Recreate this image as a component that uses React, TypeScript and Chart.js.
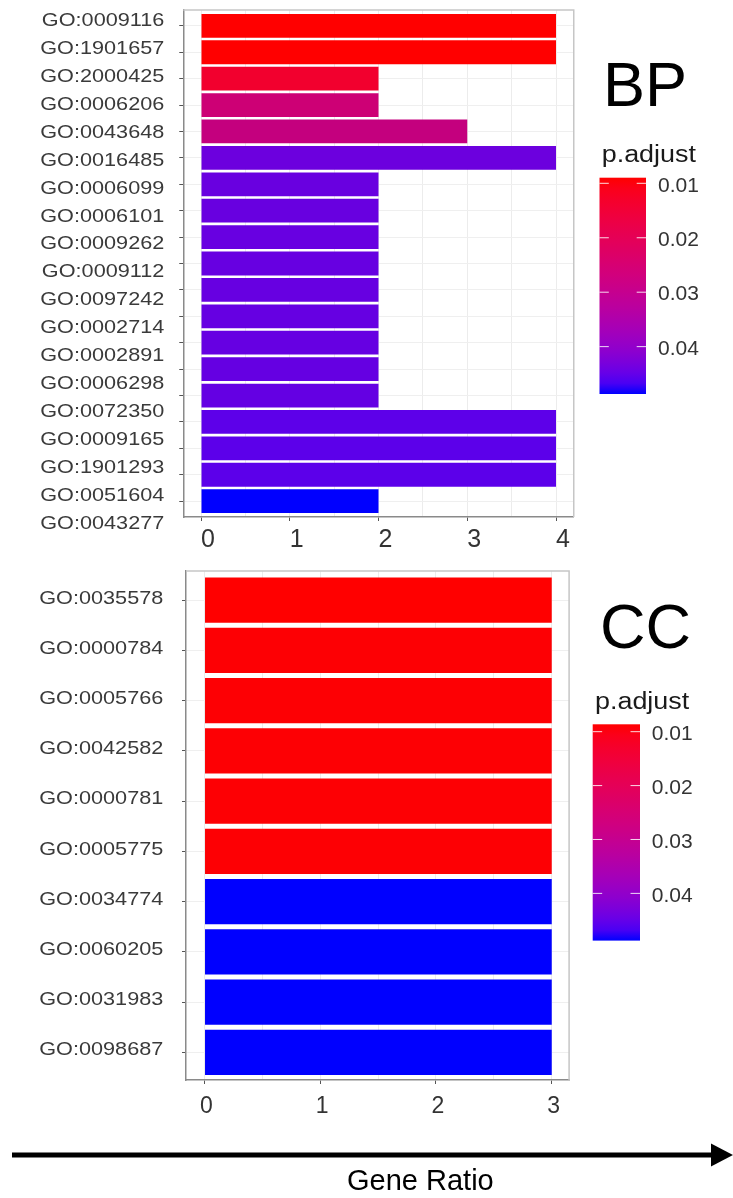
import React, { useEffect, useRef } from 'react';
import { Chart, registerables } from 'chart.js';

Chart.register(...registerables);

// ---------- data ----------
const bpTerms = [
  'GO:0009116', 'GO:1901657', 'GO:2000425', 'GO:0006206', 'GO:0043648',
  'GO:0016485', 'GO:0006099', 'GO:0006101', 'GO:0009262', 'GO:0009112',
  'GO:0097242', 'GO:0002714', 'GO:0002891', 'GO:0006298', 'GO:0072350',
  'GO:0009165', 'GO:1901293', 'GO:0051604', 'GO:0043277',
];
const bpCounts = [4, 4, 2, 2, 3, 4, 2, 2, 2, 2, 2, 2, 2, 2, 2, 4, 4, 4, 2];
const bpColors = [
  '#ff0000', '#ff0000', '#f2002e', '#cd0075', '#c4007e',
  '#6c00de', '#6900e0', '#6800e0', '#6800e1', '#6700e1',
  '#6700e1', '#6600e2', '#6600e2', '#6500e2', '#6400e3',
  '#5d00e9', '#5c00ea', '#5c00ea', '#0000ff',
];

const ccTerms = [
  'GO:0035578', 'GO:0000784', 'GO:0005766', 'GO:0042582', 'GO:0000781',
  'GO:0005775', 'GO:0034774', 'GO:0060205', 'GO:0031983', 'GO:0098687',
];
const ccCounts = [3, 3, 3, 3, 3, 3, 3, 3, 3, 3];
const ccColors = [
  '#ff0000', '#fd0004', '#fd0004', '#fd0004', '#fd0004',
  '#fd0004', '#0000ff', '#0000ff', '#0000ff', '#0000ff',
];

const bpXTicks = [0, 1, 2, 3, 4];
const ccXTicks = [0, 1, 2, 3];
const legendTicks = [0.01, 0.02, 0.03, 0.04];
const legendTickLabels = ['0.01', '0.02', '0.03', '0.04'];

// ---------- colour helpers (ggplot-like Lab gradient red -> blue) ----------
function toLin(c: number) {
  c /= 255;
  return c <= 0.04045 ? c / 12.92 : Math.pow((c + 0.055) / 1.055, 2.4);
}
function fromLin(c: number) {
  c = Math.max(0, Math.min(1, c));
  const v = c <= 0.0031308 ? 12.92 * c : 1.055 * Math.pow(c, 1 / 2.4) - 0.055;
  return Math.round(v * 255);
}
function rgbToLab(r: number, g: number, b: number) {
  const R = toLin(r), G = toLin(g), B = toLin(b);
  const X = (0.4124 * R + 0.3576 * G + 0.1805 * B) / 0.95047;
  const Y = 0.2126 * R + 0.7152 * G + 0.0722 * B;
  const Z = (0.0193 * R + 0.1192 * G + 0.9505 * B) / 1.08883;
  const f = (t: number) => (t > 0.008856 ? Math.cbrt(t) : 7.787 * t + 16 / 116);
  const fx = f(X), fy = f(Y), fz = f(Z);
  return [116 * fy - 16, 500 * (fx - fy), 200 * (fy - fz)];
}
function labToRgb(L: number, a: number, b: number) {
  const fy = (L + 16) / 116;
  const fx = fy + a / 500;
  const fz = fy - b / 200;
  const inv = (t: number) => (t * t * t > 0.008856 ? t * t * t : (t - 16 / 116) / 7.787);
  const X = inv(fx) * 0.95047, Y = inv(fy), Z = inv(fz) * 1.08883;
  const R = 3.2406 * X - 1.5372 * Y - 0.4986 * Z;
  const G = -0.9689 * X + 1.8758 * Y + 0.0415 * Z;
  const B = 0.0557 * X - 0.204 * Y + 1.057 * Z;
  return `rgb(${fromLin(R)},${fromLin(G)},${fromLin(B)})`;
}
const LAB_LOW = rgbToLab(255, 0, 0);
const LAB_HIGH = rgbToLab(0, 0, 255);
function gradColor(t: number) {
  return labToRgb(
    LAB_LOW[0] + (LAB_HIGH[0] - LAB_LOW[0]) * t,
    LAB_LOW[1] + (LAB_HIGH[1] - LAB_LOW[1]) * t,
    LAB_LOW[2] + (LAB_HIGH[2] - LAB_LOW[2]) * t,
  );
}

const SANS = '"Liberation Sans", Arial, Helvetica, sans-serif';

type PanelCfg = {
  id: string;
  terms: string[];
  counts: number[];
  colors: string[];
  xTicks: number[];
  xMin: number;
  xMax: number;
  yMin: number;
  yMax: number;
  width: number;
  height: number;
  padTop: number;
  padRight: number;
  yAxisWidth: number;
  xAxisHeight: number;
  xTickFont: number;
  xTickPad: number;
  xLabelOffset: number;
  labelRight: number;
  labelStretch: number;
  labelShift: number;
  title: string;
  titleX: number;
  titleY: number;
  legTitleX: number;
  legTitleY: number;
  legX: number;
  legTop: number;
  legW: number;
  legH: number;
  pTop: number;
  pBottom: number;
  legLabelX: number;
  footer: boolean;
};

function makePlugin(cfg: PanelCfg) {
  return {
    id: 'decor_' + cfg.id,
    afterDraw(chart: any) {
      const { ctx, chartArea: a, scales } = chart;
      ctx.save();
      // light top / right panel border
      ctx.strokeStyle = '#c6c6c6';
      ctx.lineWidth = 1.5;
      ctx.beginPath();
      ctx.moveTo(a.left, a.top);
      ctx.lineTo(a.right, a.top);
      ctx.lineTo(a.right, a.bottom);
      ctx.stroke();

      // category labels (from the y scale)
      const ys = scales.y;
      const y0 = ys.getPixelForValue(0);
      ctx.font = `19px ${SANS}`;
      ctx.fillStyle = '#3a3a3a';
      ctx.textAlign = 'right';
      ctx.textBaseline = 'middle';
      cfg.terms.forEach((t, i) => {
        const y = y0 + (ys.getPixelForValue(i) - y0) * cfg.labelStretch + cfg.labelShift;
        ctx.save();
        ctx.translate(cfg.labelRight, y);
        ctx.scale(1.14, 1);
        ctx.fillText(t, 0, 0);
        ctx.restore();
      });

      // big panel title
      ctx.textAlign = 'left';
      ctx.textBaseline = 'alphabetic';
      ctx.fillStyle = '#000';
      ctx.font = `63px ${SANS}`;
      ctx.fillText(cfg.title, cfg.titleX, cfg.titleY);

      // legend title
      ctx.save();
      ctx.translate(cfg.legTitleX, cfg.legTitleY);
      ctx.scale(1.17, 1);
      ctx.font = `23px ${SANS}`;
      ctx.fillStyle = '#1a1a1a';
      ctx.fillText('p.adjust', 0, 0);
      ctx.restore();

      // colour bar
      const g = ctx.createLinearGradient(0, cfg.legTop, 0, cfg.legTop + cfg.legH);
      for (let k = 0; k <= 20; k++) g.addColorStop(k / 20, gradColor(k / 20));
      ctx.fillStyle = g;
      ctx.fillRect(cfg.legX, cfg.legTop, cfg.legW, cfg.legH);
      ctx.strokeStyle = 'rgba(255,255,255,0.85)';
      ctx.lineWidth = 1;
      ctx.font = `21px ${SANS}`;
      ctx.textBaseline = 'middle';
      legendTicks.forEach((p, i) => {
        const y = cfg.legTop + ((p - cfg.pTop) / (cfg.pBottom - cfg.pTop)) * cfg.legH;
        const len = cfg.legW / 5;
        ctx.beginPath();
        ctx.moveTo(cfg.legX, y);
        ctx.lineTo(cfg.legX + len, y);
        ctx.moveTo(cfg.legX + cfg.legW - len, y);
        ctx.lineTo(cfg.legX + cfg.legW, y);
        ctx.stroke();
        ctx.fillStyle = '#333';
        ctx.fillText(legendTickLabels[i], cfg.legLabelX, y + 2.5);
      });

      if (cfg.footer) {
        // arrow + Gene Ratio
        ctx.fillStyle = '#000';
        ctx.fillRect(12, 592.5, 702, 5);
        ctx.beginPath();
        ctx.moveTo(733, 595);
        ctx.lineTo(711, 583.5);
        ctx.lineTo(711, 606.5);
        ctx.closePath();
        ctx.fill();
        ctx.font = `29px ${SANS}`;
        ctx.textBaseline = 'alphabetic';
        ctx.fillText('Gene Ratio', 347, 630);
      }
      ctx.restore();
    },
  };
}

function Panel({ cfg, top }: { cfg: PanelCfg; top: number }) {
  const ref = useRef<HTMLCanvasElement | null>(null);
  useEffect(() => {
    if (!ref.current) return;
    const gridVals: number[] = [];
    cfg.xTicks.forEach((v, i) => {
      gridVals.push(v);
      if (i < cfg.xTicks.length - 1) gridVals.push((v + cfg.xTicks[i + 1]) / 2);
    });
    const yVals = cfg.terms.map((_, i) => i);
    const chart = new Chart(ref.current, {
      type: 'bar',
      data: {
        datasets: [
          {
            data: cfg.counts.map((v, i) => ({ x: v, y: i })) as any,
            backgroundColor: cfg.colors,
            borderWidth: 0,
            barPercentage: 0.9,
            categoryPercentage: 1,
          },
        ],
      },
      options: {
        indexAxis: 'y',
        animation: false,
        responsive: false,
        events: [],
        layout: { padding: { top: cfg.padTop, right: cfg.padRight, left: 0, bottom: 0 } },
        plugins: { legend: { display: false }, tooltip: { enabled: false }, title: { display: false } },
        scales: {
          x: {
            type: 'linear',
            position: 'bottom',
            min: cfg.xMin,
            max: cfg.xMax,
            afterBuildTicks: (s: any) => {
              s.ticks = gridVals.map((v) => ({ value: v }));
            },
            afterFit: (s: any) => {
              s.height = cfg.xAxisHeight;
            },
            ticks: {
              autoSkip: false,
              maxRotation: 0,
              padding: cfg.xTickPad,
              labelOffset: cfg.xLabelOffset,
              color: '#333',
              font: { family: SANS, size: cfg.xTickFont },
              callback: (v: any) => (Number.isInteger(v) ? String(v) : ''),
            },
            grid: {
              color: '#ececec',
              lineWidth: 1,
              tickLength: 4,
              tickColor: (c: any) => (c.tick && Number.isInteger(c.tick.value) ? '#555' : 'rgba(0,0,0,0)'),
            },
            border: { color: '#8a8a8a', width: 1.5 },
          },
          y: {
            type: 'linear',
            reverse: true,
            offset: false,
            min: cfg.yMin,
            max: cfg.yMax,
            afterBuildTicks: (s: any) => {
              s.ticks = yVals.map((v) => ({ value: v }));
            },
            afterFit: (s: any) => {
              s.width = cfg.yAxisWidth;
            },
            ticks: { display: false },
            grid: { offset: false, color: '#efefef', lineWidth: 1, tickLength: 4, tickColor: '#555' },
            border: { color: '#8a8a8a', width: 1.5 },
          },
        },
      } as any,
      plugins: [makePlugin(cfg) as any],
    });
    return () => chart.destroy();
  }, [cfg]);
  return (
    <canvas
      ref={ref}
      width={cfg.width}
      height={cfg.height}
      style={{ position: 'absolute', left: 0, top, width: cfg.width, height: cfg.height }}
    />
  );
}

const bpCfg: PanelCfg = {
  id: 'bp',
  terms: bpTerms,
  counts: bpCounts,
  colors: bpColors,
  xTicks: bpXTicks,
  xMin: -0.2,
  xMax: 4.2,
  yMin: -0.6,
  yMax: 18.6,
  width: 733,
  height: 560,
  padTop: 10,
  padRight: 733 - 573.75,
  yAxisWidth: 183.25,
  xAxisHeight: 43,
  xTickFont: 25,
  xTickPad: 4,
  xLabelOffset: 7,
  labelRight: 164.3,
  labelStretch: 1.057,
  labelShift: -4.9,
  title: 'BP',
  titleX: 603,
  titleY: 106,
  legTitleX: 601.7,
  legTitleY: 161.5,
  legX: 599.5,
  legTop: 177.7,
  legW: 46.5,
  legH: 216.3,
  pTop: 0.00897,
  pBottom: 0.0487,
  legLabelX: 658,
  footer: false,
};

const ccCfg: PanelCfg = {
  id: 'cc',
  terms: ccTerms,
  counts: ccCounts,
  colors: ccColors,
  xTicks: ccXTicks,
  xMin: -0.16,
  xMax: 3.15,
  yMin: -0.58,
  yMax: 9.55,
  width: 733,
  height: 638,
  padTop: 11,
  padRight: 733 - 569.1,
  yAxisWidth: 186,
  xAxisHeight: 118,
  xTickFont: 23,
  xTickPad: 9,
  xLabelOffset: 2,
  labelRight: 163.3,
  labelStretch: 0.997,
  labelShift: -1.3,
  title: 'CC',
  titleX: 600,
  titleY: 88,
  legTitleX: 595,
  legTitleY: 149.3,
  legX: 592.7,
  legTop: 164.3,
  legW: 47.3,
  legH: 216.3,
  pTop: 0.00863,
  pBottom: 0.04876,
  legLabelX: 651.7,
  footer: true,
};

export default function App() {
  return (
    <div
      style={{
        position: 'absolute',
        left: 0,
        top: 0,
        width: 733,
        height: 1198,
        background: '#fff',
        overflow: 'hidden',
      }}
    >
      <Panel cfg={bpCfg} top={0} />
      <Panel cfg={ccCfg} top={560} />
    </div>
  );
}
